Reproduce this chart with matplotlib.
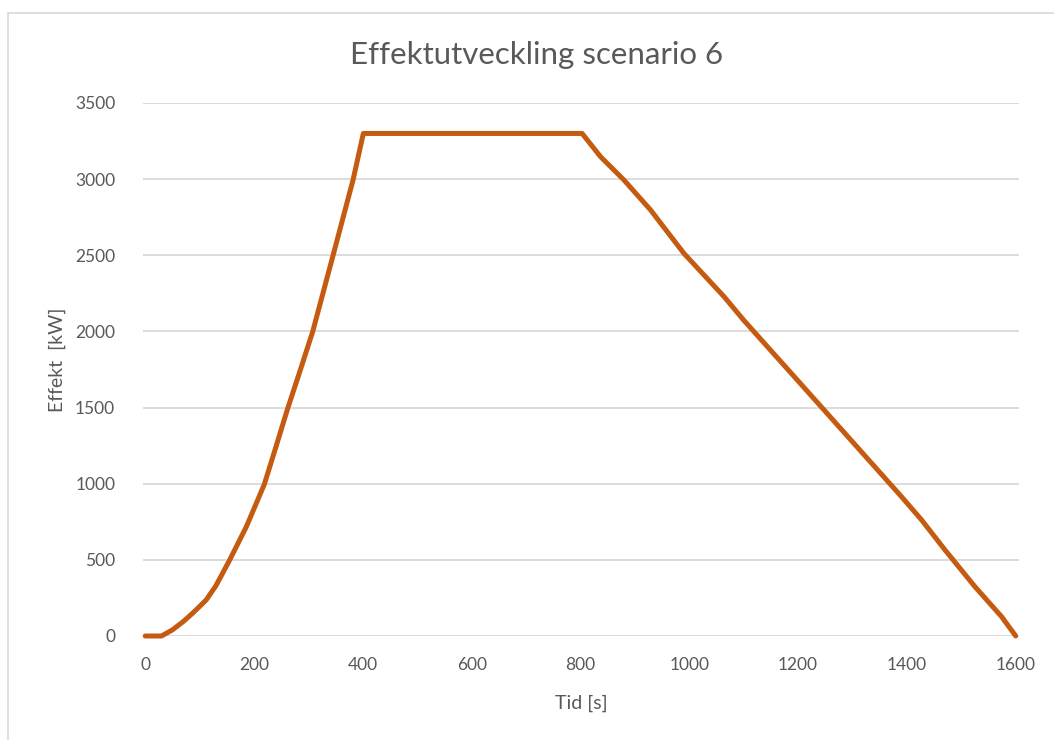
import matplotlib.pyplot as plt
from matplotlib.patches import Rectangle

# Effektutveckling, scenario 6 (tid i sekunder, effekt i kW)
tid = [0, 30, 50, 70, 87, 112, 130, 155, 186, 219, 241, 262, 285, 308, 345,
       382, 401, 600, 803, 837, 880, 929, 990, 1064, 1100, 1200, 1300, 1390,
       1427, 1470, 1525, 1574, 1600]
effekt = [0, 0, 40, 95, 149, 236, 330, 497, 718, 996, 1250, 1495, 1745, 2000,
          2495, 2994, 3300, 3300, 3300, 3147, 2994, 2797, 2513, 2228, 2074,
          1675, 1275, 915, 762, 565, 324, 127, 0]

x_ticks = [0, 200, 400, 600, 800, 1000, 1200, 1400, 1600]
y_ticks = [0, 500, 1000, 1500, 2000, 2500, 3000, 3500]

plt.rcParams['font.family'] = ['Lato', 'DejaVu Sans']
text_col = '#595959'
grid_col = '#D9D9D9'

fig = plt.figure(figsize=(10.54, 7.40), dpi=100)
fig.patches.append(Rectangle((8 / 1054, -0.1), 1.2, (740 - 13) / 740 + 0.1,
                             transform=fig.transFigure, fill=False,
                             edgecolor=grid_col, linewidth=1.2))

ax = fig.add_axes([143 / 1054, 104 / 740, 876 / 1054, 533 / 740])
ax.plot(tid, effekt, color='#C55A11', linewidth=3.6, solid_capstyle='round',
        solid_joinstyle='round', clip_on=False, zorder=3)

ax.set_xlim(-4, 1606)
ax.set_ylim(0, 3500)
ax.set_xticks(x_ticks)
ax.set_yticks(y_ticks)
ax.tick_params(length=0, labelsize=12.5, labelcolor=text_col)
ax.tick_params(axis='x', pad=15)
ax.tick_params(axis='y', pad=20)
ax.grid(axis='y', color=grid_col, linewidth=1.3)
ax.set_axisbelow(True)
for s in ax.spines.values():
    s.set_visible(False)

ax.set_xlabel('Tid [s]', fontsize=14, color=text_col, labelpad=16)
ax.set_ylabel('Effekt  [kW]', fontsize=14, color=text_col)
ax.yaxis.set_label_coords(-0.088, 0.518)
fig.text(537 / 1054, 1 - 55 / 740, 'Effektutveckling scenario 6',
         fontsize=22.5, color=text_col, ha='center', va='center')

plt.savefig('out.png', dpi=100)
